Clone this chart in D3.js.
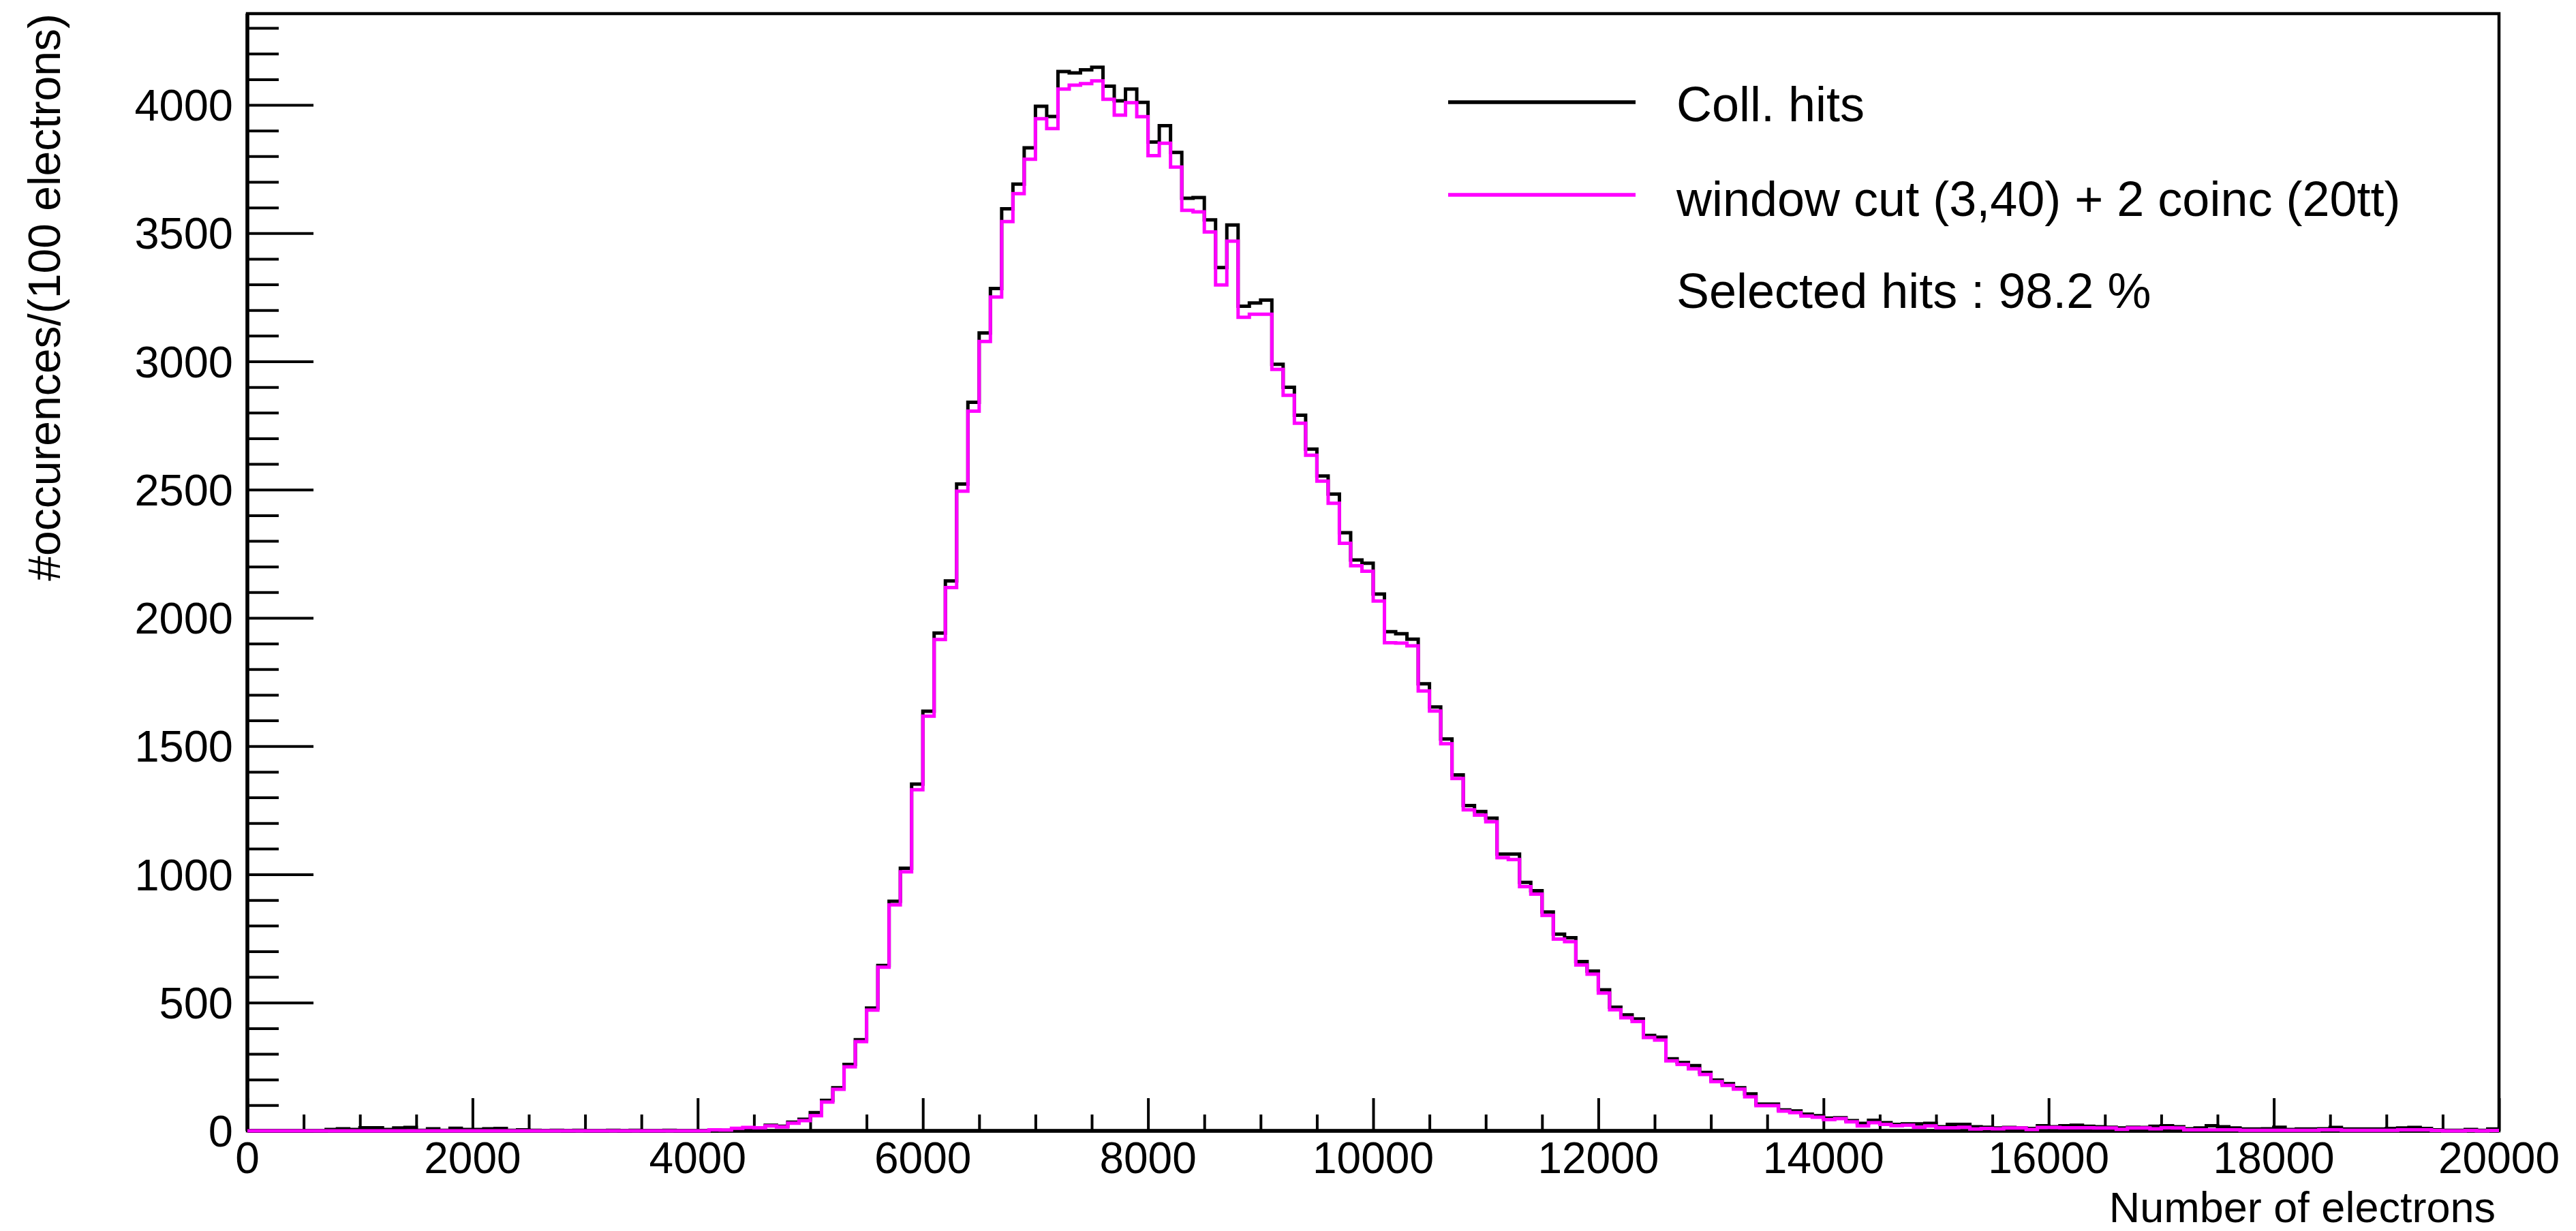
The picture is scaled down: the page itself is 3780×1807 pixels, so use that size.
<!DOCTYPE html>
<html>
<head>
<meta charset="utf-8">
<script src="https://cdn.jsdelivr.net/npm/d3@7"></script>
<style>
  html, body { margin: 0; padding: 0; background: #fff; }
  svg { display: block; }
  text { font-family: "Liberation Sans", Arial, Helvetica, sans-serif; fill: #000; }
</style>
</head>
<body>
<svg id="chart" width="3780" height="1807"></svg>
<script>
// ---------------- data ----------------
const xMin = 0, xMax = 20000, binWidth = 100;
const yMax = 4356;

// Coll. hits (black), 200 bins of 100 electrons
const collHits = [
  0,0,0,0,0,0,0,5,8,5,
  12,12,5,11,13,2,8,2,10,5,
  5,8,9,2,4,2,1,2,0,2,
  0,0,2,0,2,0,0,2,0,0,
  0,2,2,4,6,8,22,18,34,45,
  71,119,168,259,355,479,645,895,1024,1352,
  1636,1941,2144,2522,2841,3111,3284,3595,3691,3833,
  3995,3955,4130,4125,4137,4147,4073,4016,4062,4010,
  3855,3919,3815,3636,3639,3552,3366,3532,3215,3228,
  3239,2989,2899,2790,2658,2553,2483,2332,2226,2213,
  2093,1946,1938,1917,1743,1653,1528,1388,1268,1245,
  1219,1079,1079,969,936,853,767,753,660,623,
  550,482,452,436,372,365,281,266,254,228,
  198,184,168,144,104,104,82,78,65,59,
  50,51,40,29,41,32,25,27,27,29,
  16,25,25,16,14,11,13,11,9,20,
  16,20,22,18,16,14,11,14,13,18,
  20,16,8,11,20,16,11,7,7,8,
  14,5,7,7,8,13,7,7,7,7,
  9,11,13,9,4,2,2,5,2,7
];

// window cut (3,40) + 2 coinc (20tt) (magenta)
const selHits = [
  0,0,0,0,0,0,0,0,0,0,
  0,0,0,0,0,0,0,0,0,0,
  0,0,0,0,0,0,0,0,0,0,
  0,0,0,0,0,0,0,0,0,0,
  0,4,3,10,13,12,19,15,30,40,
  59,112,162,250,348,471,638,881,1010,1330,
  1617,1916,2118,2494,2806,3078,3251,3545,3654,3788,
  3946,3908,4062,4077,4083,4094,4022,3960,4009,3954,
  3802,3851,3758,3589,3583,3505,3298,3469,3172,3184,
  3184,2969,2868,2759,2634,2533,2447,2291,2203,2182,
  2066,1903,1902,1891,1715,1637,1509,1374,1252,1231,
  1205,1065,1058,952,923,840,748,738,647,611,
  537,472,441,426,364,354,273,259,242,220,
  192,177,163,133,98,98,77,71,58,53,
  44,48,35,19,32,25,20,22,14,19,
  12,12,14,7,9,8,11,11,5,13,
  13,12,12,12,11,11,6,11,11,8,
  12,11,4,4,4,4,4,2,2,2,
  2,2,2,2,4,4,2,2,2,2,
  2,4,4,4,1,0,0,1,0,1
];

const xMajorTicks = [0,2000,4000,6000,8000,10000,12000,14000,16000,18000,20000];
const xTickLabels = ["0","2000","4000","6000","8000","10000","12000","14000","16000","18000","20000"];
const yMajorTicks = [0,500,1000,1500,2000,2500,3000,3500,4000];
const yTickLabels = ["0","500","1000","1500","2000","2500","3000","3500","4000"];

const seriesNames = ["Coll. hits", "window cut (3,40) + 2 coinc (20tt)"];
const seriesColors = ["#000000", "#ff00ff"];
const infoText = "Selected hits : 98.2 %";
const xTitle = "Number of electrons";
const yTitle = "#occurences/(100 electrons)";

// ---------------- layout ----------------
const L = 363, R = 3667, T = 20, B = 1660;
const svg = d3.select("#chart");
svg.append("rect").attr("width", 3780).attr("height", 1807).attr("fill", "#fff");

const x = d3.scaleLinear().domain([xMin, xMax]).range([L, R]);
const y = d3.scaleLinear().domain([0, yMax]).range([B, T]);

// frame
svg.append("rect")
  .attr("x", L).attr("y", T).attr("width", R - L).attr("height", B - T)
  .attr("fill", "none").attr("stroke", "#000").attr("stroke-width", 4.5);

// x axis ticks (inside, pointing up)
const xMinor = d3.range(xMin, xMax + 1, 500).filter(v => v % 2000 !== 0);
const xAxisMajor = d3.axisBottom(x).tickValues(xMajorTicks).tickSize(-48).tickFormat("");
const xAxisMinor = d3.axisBottom(x).tickValues(xMinor).tickSize(-24).tickFormat("");
[xAxisMajor, xAxisMinor].forEach(ax => {
  const g = svg.append("g").attr("transform", `translate(0,${B})`).call(ax);
  g.select(".domain").remove();
  g.selectAll("line").attr("stroke", "#000").attr("stroke-width", 4);
});

// y axis ticks (inside, pointing right)
const yMinor = d3.range(0, yMax, 100).filter(v => v % 500 !== 0);
const yAxisMajor = d3.axisLeft(y).tickValues(yMajorTicks).tickSize(-97).tickFormat("");
const yAxisMinor = d3.axisLeft(y).tickValues(yMinor).tickSize(-46).tickFormat("");
[yAxisMajor, yAxisMinor].forEach(ax => {
  const g = svg.append("g").attr("transform", `translate(${L},0)`).call(ax);
  g.select(".domain").remove();
  g.selectAll("line").attr("stroke", "#000").attr("stroke-width", 4);
});

// axis lines (slightly thicker)
svg.append("line").attr("x1", L).attr("x2", L).attr("y1", T).attr("y2", B)
  .attr("stroke", "#000").attr("stroke-width", 5.5);
svg.append("line").attr("x1", L).attr("x2", R).attr("y1", B).attr("y2", B)
  .attr("stroke", "#000").attr("stroke-width", 5.5);

// tick labels
svg.append("g").selectAll("text").data(xMajorTicks).join("text")
  .attr("x", d => x(d)).attr("y", 1722)
  .attr("text-anchor", "middle").attr("font-size", 64)
  .text((d, i) => xTickLabels[i]);

svg.append("g").selectAll("text").data(yMajorTicks).join("text")
  .attr("x", 342).attr("y", d => y(d) + 23)
  .attr("text-anchor", "end").attr("font-size", 65)
  .text((d, i) => yTickLabels[i]);

// axis titles
svg.append("text").attr("x", 3662).attr("y", 1794)
  .attr("text-anchor", "end").attr("font-size", 63).text(xTitle);
svg.append("text")
  .attr("transform", `translate(88,${T}) rotate(-90)`)
  .attr("text-anchor", "end").attr("font-size", 66).text(yTitle);

// histograms
function stepPoints(vals) {
  const pts = [];
  vals.forEach((v, i) => {
    const lo = xMin + i * binWidth, hi = lo + binWidth;
    pts.push([lo, v]); pts.push([hi, v]);
  });
  return pts;
}
const line = d3.line().x(d => x(d[0])).y(d => y(d[1]));
[collHits, selHits].forEach((vals, k) => {
  svg.append("path")
    .attr("d", line(stepPoints(vals)))
    .attr("fill", "none")
    .attr("stroke", seriesColors[k])
    .attr("stroke-width", 5)
    .attr("stroke-linejoin", "miter")
    .attr("stroke-linecap", "butt");
});

// legend
const legendRows = [150, 286];
seriesNames.forEach((name, k) => {
  svg.append("line")
    .attr("x1", 2125).attr("x2", 2400)
    .attr("y1", legendRows[k]).attr("y2", legendRows[k])
    .attr("stroke", seriesColors[k]).attr("stroke-width", 5.5);
  svg.append("text").attr("x", 2460).attr("y", [178, 317][k])
    .attr("font-size", 72).text(name);
});
svg.append("text").attr("x", 2460).attr("y", 452)
  .attr("font-size", 72).text(infoText);
</script>
</body>
</html>
